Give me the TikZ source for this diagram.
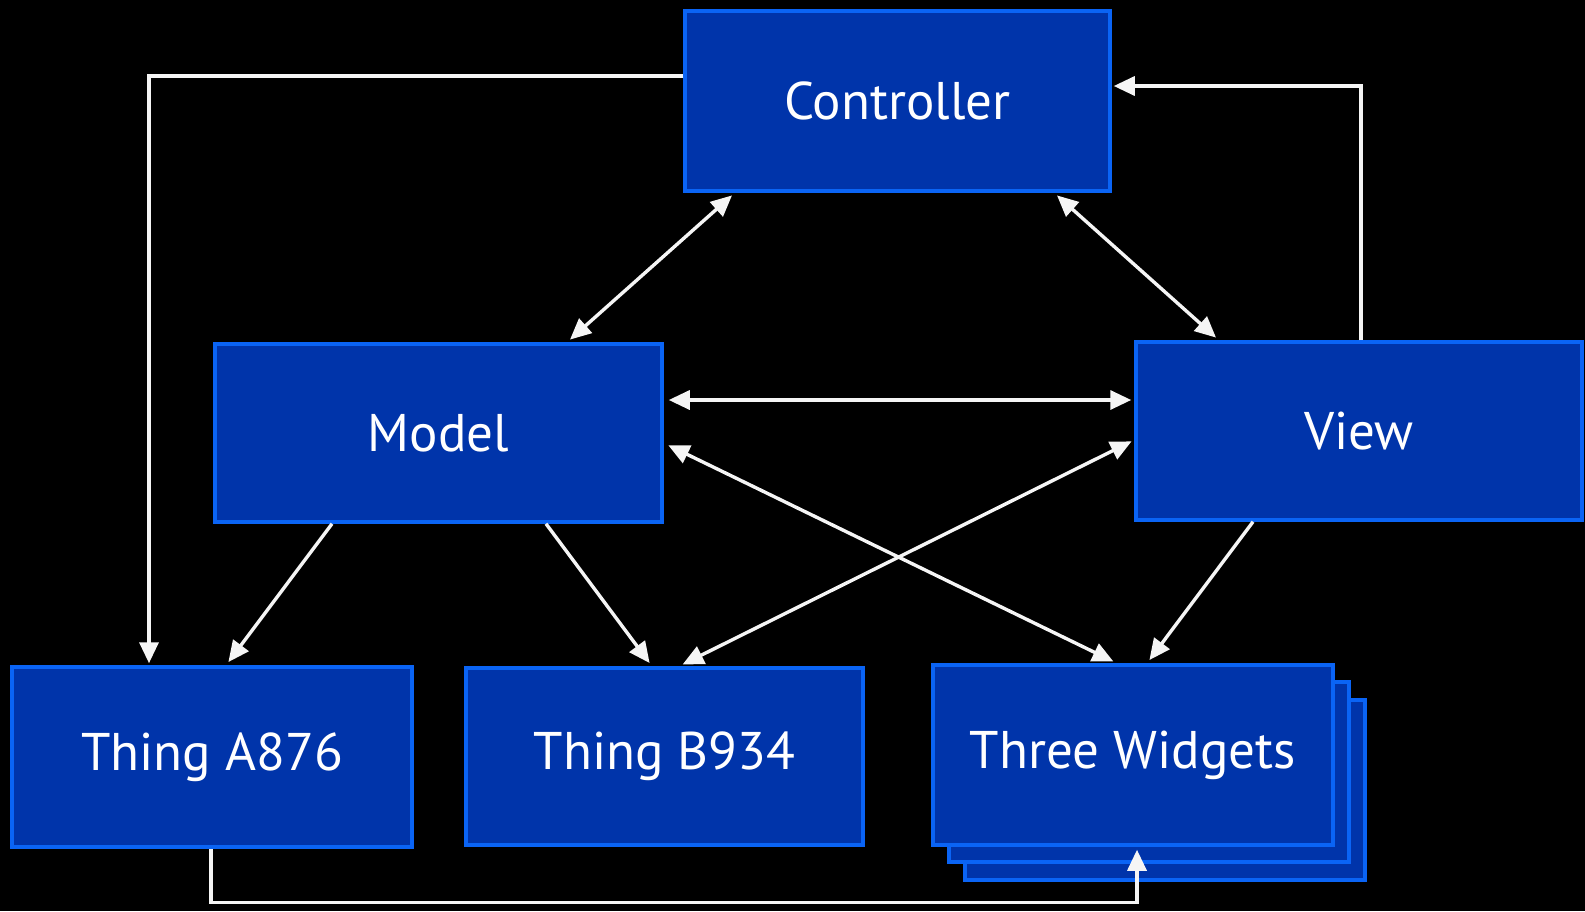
\documentclass[tikz,border=0pt]{standalone}
\usepackage{fontspec}
\setmainfont{PT Sans}
\usetikzlibrary{arrows.meta}
\definecolor{boxfill}{RGB}{0,52,170}
\definecolor{boxedge}{RGB}{10,100,245}
\definecolor{wire}{RGB}{245,245,245}
\begin{document}
\begin{tikzpicture}[x=1pt,y=-1pt,
  blk/.style={draw=boxedge, fill=boxfill, line width=3.5pt, text=white,
    font=\fontsize{53}{60}\selectfont, inner sep=0pt},
  arr/.style={draw=wire, line width=3.4pt, -{Triangle[length=21pt,width=19pt]}},
  biarr/.style={draw=wire, line width=3.4pt, {Triangle[length=21pt,width=19pt]}-{Triangle[length=21pt,width=19pt]}}]
\useasboundingbox[fill=black] (0,0) rectangle (1585,911);

% boxes
\node[blk, minimum width=425pt, minimum height=180pt] (ctrl) at (897.5,101) {Controller};
\node[blk, minimum width=447pt, minimum height=178pt] (model) at (438.5,433) {Model};
\node[blk, minimum width=446pt, minimum height=178pt] (view) at (1359,431) {View};
\node[blk, minimum width=400pt, minimum height=180pt] (thA) at (212,757) {Thing A876};
\node[blk, minimum width=397pt, minimum height=177pt] (thB) at (664.5,756.5) {Thing B934};
% stacked widgets: two copies behind the front box
\node[blk, minimum width=400pt, minimum height=180pt] (wid3) at (1165,790) {};
\node[blk, minimum width=400pt, minimum height=180pt] (wid2) at (1149,772) {};
\node[blk, minimum width=400pt, minimum height=180pt] (wid) at (1133,755) {Three Widgets};

% connectors
\draw[arr, shorten >=2pt] ([yshift=25pt]ctrl.west) -| ([xshift=-63pt]thA.north);
\draw[arr, shorten >=2pt] ([xshift=2pt]view.north) |- ([yshift=15pt]ctrl.east);
\draw[biarr, shorten <=4pt, shorten >=4pt] ([xshift=-162.5pt]ctrl.south) -- ([xshift=128.5pt]model.north);
\draw[biarr, shorten <=4pt, shorten >=4pt] ([xshift=156.5pt]ctrl.south) -- ([xshift=-140pt]view.north);
\draw[biarr, shorten <=5pt, shorten >=3pt] ([yshift=33pt]model.east) -- ([yshift=31pt]view.west);
\draw[biarr, shorten <=5pt, shorten >=4pt] ([yshift=-10pt]model.east) -- ([xshift=-16pt]wid.north);
\draw[biarr, shorten <=3pt, shorten >=4pt] ([yshift=-9pt]view.west) -- ([xshift=14.5pt]thB.north);
\draw[arr, shorten >=4pt] ([xshift=-106.5pt]model.south) -- ([xshift=14pt]thA.north);
\draw[arr, shorten >=4pt] ([xshift=107.5pt]model.south) -- ([xshift=-12.5pt]thB.north);
\draw[arr, shorten >=4pt] ([xshift=-106pt]view.south) -- ([xshift=14pt]wid.north);
\draw[arr, shorten >=3pt] ([xshift=-1pt]thA.south) -- ++(0,54) -| ([xshift=4pt]wid.south);
\end{tikzpicture}
\end{document}
